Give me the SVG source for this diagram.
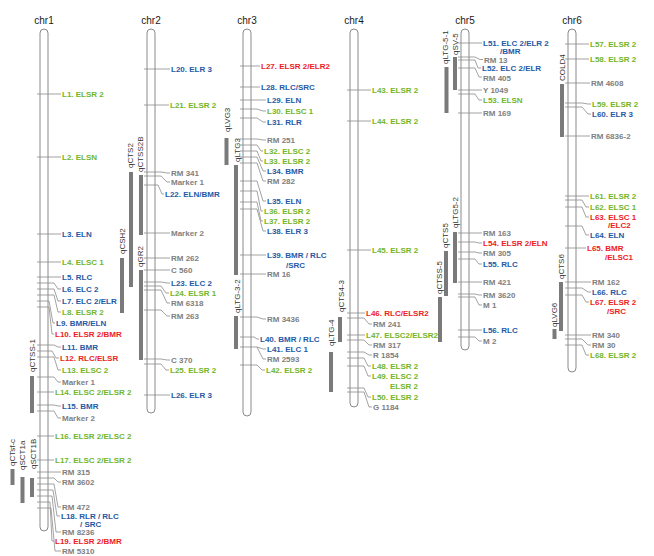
<svg xmlns="http://www.w3.org/2000/svg" width="654" height="556" viewBox="0 0 654 556">
<style>
.c{fill:none;stroke:#8c8c8c;stroke-width:0.8}
.t{font-family:"Liberation Sans",Arial,sans-serif;font-size:8px;font-weight:bold}
.g{fill:#72b62a}.b{fill:#1f5aa6}.r{fill:#ee1c24}.k{fill:#808080}
.body{fill:none;stroke:#8a8a8a;stroke-width:1}
.ct{font-family:"Liberation Sans",Arial,sans-serif;font-size:10px;fill:#1a1a1a;text-anchor:middle}
.bar{fill:#7a7a7a}
.qt{font-family:"Liberation Sans",Arial,sans-serif;font-size:8px;fill:#333}
</style>
<rect width="654" height="556" fill="#fff"/>

<g id="connectors">
<polyline class="c" points="37,94 61,94"/>
<polyline class="c" points="37,157 61,157"/>
<polyline class="c" points="37,234 61,234"/>
<polyline class="c" points="37,262 61,262"/>
<polyline class="c" points="37,277 61,277"/>
<polyline class="c" points="37,283 54,283 58,289 61,289"/>
<polyline class="c" points="37,289 54,289 58,301 61,301"/>
<polyline class="c" points="37,295 54,295 58,312 61,312"/>
<polyline class="c" points="37,301 49,301 53,323 55,323"/>
<polyline class="c" points="37,307 49,307 52,334 54,334"/>
<polyline class="c" points="37,345 54,345 58,347 61,347"/>
<polyline class="c" points="37,351 52,351 56,358 59,358"/>
<polyline class="c" points="37,357 54,357 58,370 61,370"/>
<polyline class="c" points="37,377 54,377 58,382 61,382"/>
<polyline class="c" points="37,392 54,392"/>
<polyline class="c" points="37,405 54,405 58,406 61,406"/>
<polyline class="c" points="37,411 54,411 58,418 61,418"/>
<polyline class="c" points="37,436 54,436"/>
<polyline class="c" points="37,460 54,460"/>
<polyline class="c" points="37,472 61,472"/>
<polyline class="c" points="37,478 54,478 58,482 61,482"/>
<polyline class="c" points="37,484 54,484 58,507 61,507"/>
<polyline class="c" points="37,490 53,490 57,516 60,516"/>
<polyline class="c" points="37,496 52,496 56,532 61,532"/>
<polyline class="c" points="37,502 50,502 52,541 54,541"/>
<polyline class="c" points="37,508 51,508 55,551 61,551"/>

<polyline class="c" points="144,69 170,69"/>
<polyline class="c" points="144,105 169,105"/>
<polyline class="c" points="144,172 161,172 167,173 170,173"/>
<polyline class="c" points="144,176 161,176 167,182 170,182"/>
<polyline class="c" points="144,185 158,185 162,194 164,194"/>
<polyline class="c" points="144,233 170,233"/>
<polyline class="c" points="144,258 170,258"/>
<polyline class="c" points="144,270 170,270"/>
<polyline class="c" points="144,282 161,282 167,283 170,283"/>
<polyline class="c" points="144,286 161,286 166,293 169,293"/>
<polyline class="c" points="144,290 161,290 167,303 170,303"/>
<polyline class="c" points="144,310 161,310 167,316 170,316"/>
<polyline class="c" points="144,359 161,359 167,360 170,360"/>
<polyline class="c" points="144,364 161,364 166,370 169,370"/>
<polyline class="c" points="144,395 170,395"/>

<polyline class="c" points="240,66 260,66"/>
<polyline class="c" points="240,87 260,87"/>
<polyline class="c" points="240,100 266,100"/>
<polyline class="c" points="240,109 257,109 263,111 266,111"/>
<polyline class="c" points="240,118 257,118 263,122 266,122"/>
<polyline class="c" points="240,139 257,139 263,140 266,140"/>
<polyline class="c" points="240,145 257,145 261,151 263,151"/>
<polyline class="c" points="240,151 257,151 261,161 263,161"/>
<polyline class="c" points="240,157 257,157 263,171 266,171"/>
<polyline class="c" points="240,163 257,163 263,181 266,181"/>
<polyline class="c" points="240,181 257,181 263,201 266,201"/>
<polyline class="c" points="240,191 257,191 261,211 263,211"/>
<polyline class="c" points="240,202 257,202 261,221 263,221"/>
<polyline class="c" points="240,209 257,209 263,231 266,231"/>
<polyline class="c" points="240,255 266,255"/>
<polyline class="c" points="240,274 266,274"/>
<polyline class="c" points="240,317 257,317 263,319 266,319"/>
<polyline class="c" points="240,337 254,337 257,339 259,339"/>
<polyline class="c" points="240,347 257,347 263,349 266,349"/>
<polyline class="c" points="257,347 263,359 266,359"/>
<polyline class="c" points="240,365 257,365 262,370 265,370"/>

<polyline class="c" points="347,90 371,90"/>
<polyline class="c" points="347,121 371,121"/>
<polyline class="c" points="347,250 371,250"/>
<polyline class="c" points="347,313 365,313"/>
<polyline class="c" points="347,318 364,318 369,324 372,324"/>
<polyline class="c" points="347,335 365,335"/>
<polyline class="c" points="347,340 364,340 369,345 372,345"/>
<polyline class="c" points="347,352 364,352 369,355 372,355"/>
<polyline class="c" points="347,358 364,358 368,366 371,366"/>
<polyline class="c" points="347,366 364,366 368,376 371,376"/>
<polyline class="c" points="347,388 364,388 368,397 371,397"/>
<polyline class="c" points="347,392 364,392 369,407 372,407"/>

<polyline class="c" points="458,43 482,43"/>
<polyline class="c" points="458,57 475,57 480,59.5 483,59.5"/>
<polyline class="c" points="458,60 475,60 478,68 481,68"/>
<polyline class="c" points="458,68 475,68 479,77 482,77"/>
<polyline class="c" points="458,90 482,90"/>
<polyline class="c" points="458,94 475,94 479,100 482,100"/>
<polyline class="c" points="458,113 482,113"/>
<polyline class="c" points="458,233 482,233"/>
<polyline class="c" points="458,242 475,242 479,243 482,243"/>
<polyline class="c" points="458,252 475,252 479,253 482,253"/>
<polyline class="c" points="458,259 475,259 479,264 482,264"/>
<polyline class="c" points="458,282 482,282"/>
<polyline class="c" points="458,294 475,294 479,295 482,295"/>
<polyline class="c" points="458,297 475,297 479,305 482,305"/>
<polyline class="c" points="458,330 482,330"/>
<polyline class="c" points="458,337 475,337 479,341 482,341"/>

<polyline class="c" points="565,44 589,44"/>
<polyline class="c" points="565,59 589,59"/>
<polyline class="c" points="565,83 590,83"/>
<polyline class="c" points="565,103 582,103 588,104 591,104"/>
<polyline class="c" points="565,107 582,107 588,114 591,114"/>
<polyline class="c" points="565,136 590,136"/>
<polyline class="c" points="565,196 589,196"/>
<polyline class="c" points="565,200 582,200 586,207 589,207"/>
<polyline class="c" points="565,207 582,207 586,217 589,217"/>
<polyline class="c" points="565,226 582,226 586,235 589,235"/>
<polyline class="c" points="565,248 586,248"/>
<polyline class="c" points="565,282 591,282"/>
<polyline class="c" points="565,288 582,288 588,292 591,292"/>
<polyline class="c" points="565,295 582,295 586,302 589,302"/>
<polyline class="c" points="565,335 591,335"/>
<polyline class="c" points="565,339 582,339 588,345 591,345"/>
<polyline class="c" points="565,345 582,345 586,355 589,355"/>
</g>

<g id="chr1">
<text class="ct" x="44" y="24">chr1</text>
<rect class="body" x="40" y="29" width="8" height="502" rx="4"/>
<text class="t g" x="62" y="97">L1. ELSR 2</text>
<text class="t g" x="62" y="160">L2. ELSN</text>
<text class="t b" x="62" y="237">L3. ELN</text>
<text class="t g" x="62" y="265">L4. ELSC 1</text>
<text class="t b" x="62" y="280">L5. RLC</text>
<text class="t b" x="62" y="292">L6. ELC 2</text>
<text class="t b" x="62" y="304">L7. ELC 2/ELR</text>
<text class="t g" x="62" y="315">L8. ELSR 2</text>
<text class="t b" x="56" y="326">L9. BMR/ELN</text>
<text class="t r" x="55" y="337">L10. ELSR 2/BMR</text>
<text class="t b" x="62" y="350">L11. BMR</text>
<text class="t r" x="60" y="361">L12. RLC/ELSR</text>
<text class="t g" x="62" y="373">L13. ELSC 2</text>
<text class="t k" x="62" y="385">Marker 1</text>
<text class="t g" x="55" y="395">L14. ELSC 2/ELSR 2</text>
<text class="t b" x="62" y="409">L15. BMR</text>
<text class="t k" x="62" y="421">Marker 2</text>
<text class="t g" x="55" y="439">L16. ELSR 2/ELSC 2</text>
<text class="t g" x="55" y="463">L17. ELSC 2/ELSR 2</text>
<text class="t k" x="62" y="475">RM 315</text>
<text class="t k" x="62" y="485">RM 3602</text>
<text class="t k" x="62" y="510">RM 472</text>
<text class="t b" x="61" y="518.5">L18. RLR / RLC</text>
<text class="t b" x="80" y="526.5">/ SRC</text>
<text class="t k" x="62" y="535">RM 8236</text>
<text class="t r" x="55" y="544">L19. ELSR 2/BMR</text>
<text class="t k" x="62" y="554">RM 5310</text>
</g>

<g id="chr2">
<text class="ct" x="151" y="24">chr2</text>
<rect class="body" x="147" y="29" width="8" height="384" rx="4"/>
<text class="t b" x="171" y="72">L20. ELR 3</text>
<text class="t g" x="170" y="108">L21. ELSR 2</text>
<text class="t k" x="171" y="176">RM 341</text>
<text class="t k" x="171" y="185">Marker 1</text>
<text class="t b" x="165" y="197">L22. ELN/BMR</text>
<text class="t k" x="171" y="236">Marker 2</text>
<text class="t k" x="171" y="261">RM 262</text>
<text class="t k" x="171" y="273">C 560</text>
<text class="t b" x="171" y="286">L23. ELC 2</text>
<text class="t g" x="170" y="296">L24. ELSR 1</text>
<text class="t k" x="171" y="306">RM 6318</text>
<text class="t k" x="171" y="319">RM 263</text>
<text class="t k" x="171" y="363">C 370</text>
<text class="t g" x="170" y="373">L25. ELSR 2</text>
<text class="t b" x="171" y="398">L26. ELR 3</text>
</g>

<g id="chr3">
<text class="ct" x="247" y="24">chr3</text>
<rect class="body" x="243" y="29" width="8" height="387" rx="4"/>
<text class="t r" x="261" y="69">L27. ELSR 2/ELR2</text>
<text class="t b" x="261" y="90">L28. RLC/SRC</text>
<text class="t b" x="267" y="103">L29. ELN</text>
<text class="t g" x="267" y="114">L30. ELSC 1</text>
<text class="t b" x="267" y="125">L31. RLR</text>
<text class="t k" x="267" y="143">RM 251</text>
<text class="t g" x="264" y="154">L32. ELSC 2</text>
<text class="t g" x="264" y="164">L33. ELSR 2</text>
<text class="t b" x="267" y="174">L34. BMR</text>
<text class="t k" x="267" y="184">RM 282</text>
<text class="t b" x="267" y="204">L35. ELN</text>
<text class="t g" x="264" y="214">L36. ELSR 2</text>
<text class="t g" x="264" y="224">L37. ELSR 2</text>
<text class="t b" x="267" y="234">L38. ELR 3</text>
<text class="t b" x="267" y="258">L39. BMR / RLC</text>
<text class="t b" x="286" y="268">/SRC</text>
<text class="t k" x="267" y="277">RM 16</text>
<text class="t k" x="267" y="322">RM 3436</text>
<text class="t b" x="260" y="342">L40. BMR / RLC</text>
<text class="t b" x="267" y="352">L41. ELC 1</text>
<text class="t k" x="267" y="362">RM 2593</text>
<text class="t g" x="266" y="373">L42. ELSR 2</text>
</g>

<g id="chr4">
<text class="ct" x="354" y="24">chr4</text>
<rect class="body" x="350" y="29" width="8" height="378" rx="4"/>
<text class="t g" x="372" y="93">L43. ELSR 2</text>
<text class="t g" x="372" y="124">L44. ELSR 2</text>
<text class="t g" x="372" y="253">L45. ELSR 2</text>
<text class="t r" x="366" y="316">L46. RLC/ELSR2</text>
<text class="t k" x="373" y="327">RM 241</text>
<text class="t g" x="366" y="338">L47. ELSC2/ELSR2</text>
<text class="t k" x="373" y="348">RM 317</text>
<text class="t k" x="373" y="358">R 1854</text>
<text class="t g" x="372" y="369">L48. ELSR 2</text>
<text class="t g" x="372" y="379">L49. ELSC 2</text>
<text class="t g" x="390" y="389">ELSR 2</text>
<text class="t g" x="372" y="400">L50. ELSR 2</text>
<text class="t k" x="373" y="410">G 1184</text>
</g>

<g id="chr5">
<text class="ct" x="465" y="24">chr5</text>
<rect class="body" x="461" y="29" width="8" height="321" rx="4"/>
<text class="t b" x="483" y="45.5">L51. ELC 2/ELR 2</text>
<text class="t b" x="500" y="53.5">/BMR</text>
<text class="t k" x="484" y="62.5">RM 13</text>
<text class="t b" x="482" y="71">L52. ELC 2/ELR</text>
<text class="t k" x="483" y="80.5">RM 405</text>
<text class="t k" x="483" y="93">Y 1049</text>
<text class="t g" x="483" y="103">L53. ELSN</text>
<text class="t k" x="483" y="116">RM 169</text>
<text class="t k" x="483" y="236">RM 163</text>
<text class="t r" x="483" y="246">L54. ELSR 2/ELN</text>
<text class="t k" x="483" y="256">RM 305</text>
<text class="t b" x="483" y="267">L55. RLC</text>
<text class="t k" x="483" y="285">RM 421</text>
<text class="t k" x="483" y="298">RM 3620</text>
<text class="t k" x="483" y="308">M 1</text>
<text class="t b" x="483" y="333">L56. RLC</text>
<text class="t k" x="483" y="344">M 2</text>
</g>

<g id="chr6">
<text class="ct" x="572" y="24">chr6</text>
<rect class="body" x="568" y="29" width="8" height="343" rx="4"/>
<text class="t g" x="590" y="47">L57. ELSR 2</text>
<text class="t g" x="590" y="62">L58. ELSR 2</text>
<text class="t k" x="591" y="86">RM 4608</text>
<text class="t g" x="592" y="107">L59. ELSR 2</text>
<text class="t b" x="592" y="117">L60. ELR 3</text>
<text class="t k" x="591" y="139">RM 6836-2</text>
<text class="t g" x="590" y="199">L61. ELSR 2</text>
<text class="t g" x="590" y="210">L62. ELSC 1</text>
<text class="t r" x="590" y="220">L63. ELSC 1</text>
<text class="t r" x="608" y="228">/ELC2</text>
<text class="t b" x="590" y="238">L64. ELN</text>
<text class="t r" x="587" y="251">L65. BMR</text>
<text class="t r" x="605" y="260">/ELSC1</text>
<text class="t k" x="592" y="285">RM 162</text>
<text class="t b" x="592" y="295">L66. RLC</text>
<text class="t r" x="590" y="305">L67. ELSR 2</text>
<text class="t r" x="607" y="314">/SRC</text>
<text class="t k" x="592" y="338">RM 340</text>
<text class="t k" x="592" y="348">RM 30</text>
<text class="t g" x="590" y="358">L68. ELSR 2</text>
</g>

<g id="qCTSS-1"><rect class="bar" x="30" y="376" width="4" height="37"/><text class="qt" transform="translate(35,372) rotate(-90)">qCTSS-1</text></g>
<g id="qCTsf-c"><rect class="bar" x="10.5" y="469" width="4" height="16"/><text class="qt" transform="translate(15,466) rotate(-90)">qCTsf-c</text></g>
<g id="qSCT1a"><rect class="bar" x="20.5" y="477" width="4" height="26"/><text class="qt" transform="translate(25,470) rotate(-90)">qSCT1a</text></g>
<g id="qSCT1B"><rect class="bar" x="30" y="478" width="4" height="19"/><text class="qt" transform="translate(36,469) rotate(-90)">qSCT1B</text></g>
<g id="qCSH2"><rect class="bar" x="120" y="258" width="4" height="55"/><text class="qt" transform="translate(125,254) rotate(-90)">qCSH2</text></g>
<g id="qCTS2"><rect class="bar" x="129" y="172" width="4" height="115"/><text class="qt" transform="translate(133,168) rotate(-90)">qCTS2</text></g>
<g id="qCTSS2B"><rect class="bar" x="139" y="175" width="4" height="60"/><text class="qt" transform="translate(143,172) rotate(-90)">qCTSS2B</text></g>
<g id="qGR2"><rect class="bar" x="139" y="270" width="4" height="90"/><text class="qt" transform="translate(143,267) rotate(-90)">qGR2</text></g>
<g id="qLVG3"><rect class="bar" x="224.5" y="138" width="4" height="27"/><text class="qt" transform="translate(230,132) rotate(-90)">qLVG3</text></g>
<g id="qLTG3"><rect class="bar" x="234" y="165" width="4" height="110"/><text class="qt" transform="translate(240,162) rotate(-90)">qLTG3</text></g>
<g id="qLTG-3-2"><rect class="bar" x="234" y="316" width="4" height="33"/><text class="qt" transform="translate(240,313) rotate(-90)">qLTG-3-2</text></g>
<g id="qCTS4-3"><rect class="bar" x="338" y="317" width="4" height="25"/><text class="qt" transform="translate(344,312) rotate(-90)">qCTS4-3</text></g>
<g id="qLTG-4"><rect class="bar" x="329" y="352" width="4" height="40"/><text class="qt" transform="translate(334,346) rotate(-90)">qLTG-4</text></g>
<g id="qLTG-5-1"><rect class="bar" x="444.5" y="67" width="4" height="46"/><text class="qt" transform="translate(448,64) rotate(-90)">qLTG-5-1</text></g>
<g id="qSV-5"><rect class="bar" x="453" y="57" width="4" height="33"/><text class="qt" transform="translate(458,55) rotate(-90)">qSV-5</text></g>
<g id="qLTG5-2"><rect class="bar" x="453" y="232" width="4" height="51"/><text class="qt" transform="translate(458,228) rotate(-90)">qLTG5-2</text></g>
<g id="qCTS5"><rect class="bar" x="444" y="251" width="4" height="45"/><text class="qt" transform="translate(448,248) rotate(-90)">qCTS5</text></g>
<g id="qCTSS-5"><rect class="bar" x="438" y="297" width="4" height="45"/><text class="qt" transform="translate(442,294) rotate(-90)">qCTSS-5</text></g>
<g id="COLD4"><rect class="bar" x="560" y="84" width="4" height="53"/><text class="qt" transform="translate(565,81) rotate(-90)">COLD4</text></g>
<g id="qCTS6"><rect class="bar" x="559" y="282" width="4" height="49"/><text class="qt" transform="translate(564,279) rotate(-90)">qCTS6</text></g>
<g id="qLVG6"><rect class="bar" x="552.5" y="329" width="4" height="10"/><text class="qt" transform="translate(557,327) rotate(-90)">qLVG6</text></g>
</svg>
